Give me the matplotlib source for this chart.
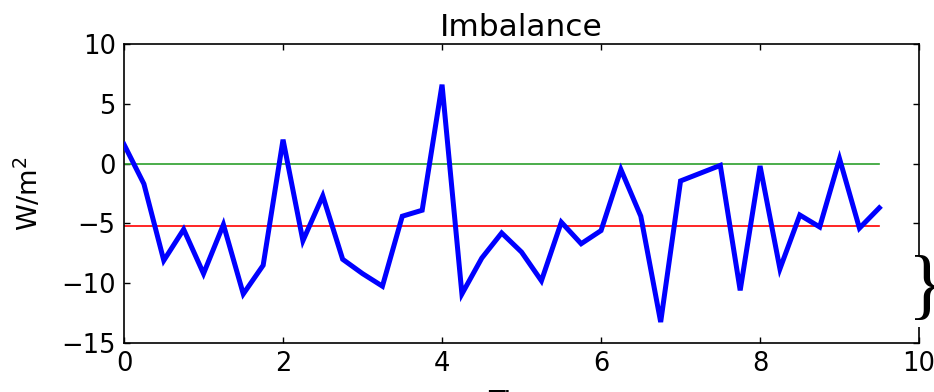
import numpy as np
import matplotlib
matplotlib.use("Agg")
import matplotlib.pyplot as plt

# time axis (quarter steps) and imbalance series
t = [0.0, 0.25, 0.5, 0.75, 1.0, 1.25, 1.5, 1.75, 2.0, 2.25, 2.5, 2.75, 3.0,
     3.25, 3.5, 3.75, 4.0, 4.25, 4.5, 4.75, 5.0, 5.25, 5.5, 5.75, 6.0, 6.25,
     6.5, 6.75, 7.0, 7.25, 7.5, 7.75, 8.0, 8.25, 8.5, 8.75, 9.0, 9.25, 9.5]
imbalance = [1.6, -1.7, -8.1, -5.5, -9.2, -5.1, -10.9, -8.5, 2.0, -6.45, -2.7,
             -8.0, -9.2, -10.25, -4.4, -3.9, 6.6, -10.9, -7.9, -5.8, -7.4, -9.8,
             -4.9, -6.7, -5.6, -0.5, -4.4, -13.25, -1.45, -0.8, -0.15, -10.6,
             -0.2, -8.8, -4.3, -5.3, 0.4, -5.4, -3.7]
zero_level = 0.0
mean_level = -5.2

xticks = [0, 2, 4, 6, 8, 10]
yticks = [-15, -10, -5, 0, 5, 10]

plt.rcParams['font.family'] = 'DejaVu Sans'
plt.rcParams['axes.unicode_minus'] = True

fig = plt.figure(figsize=(9.34, 3.92), dpi=100)
ax = fig.add_axes([0.1328, 0.125, 0.984 - 0.1328, 0.8878 - 0.125])

ax.plot(t, imbalance, color='#0000ff', lw=3.6, solid_joinstyle='miter', zorder=3)
ax.plot([t[0], t[-1]], [zero_level, zero_level], color='#2ca02c', lw=1.2, zorder=2)
ax.plot([t[0], t[-1]], [mean_level, mean_level], color='#ff0000', lw=1.2, zorder=2)

ax.set_xlim(0, 10)
ax.set_ylim(-15, 10)
ax.set_xticks(xticks)
ax.set_yticks(yticks)
ax.tick_params(direction='in', top=True, right=True, length=4, width=1,
               labelsize=18.5, pad=6)
for s in ax.spines.values():
    s.set_linewidth(1.2)

ax.set_title("Imbalance", fontsize=22.5, pad=6)
ax.set_ylabel("W/m$^2$", fontsize=19.5, labelpad=12)
ax.set_xlabel("Time", fontsize=19.5, labelpad=9)

# curly brace sitting on the right spine
fig.text(0.9925, 0.258, "}", family='Liberation Serif', fontsize=56,
         ha='center', va='center',
         bbox=dict(facecolor='white', edgecolor='none', pad=0))

fig.savefig("out.png", dpi=100, facecolor='white')
